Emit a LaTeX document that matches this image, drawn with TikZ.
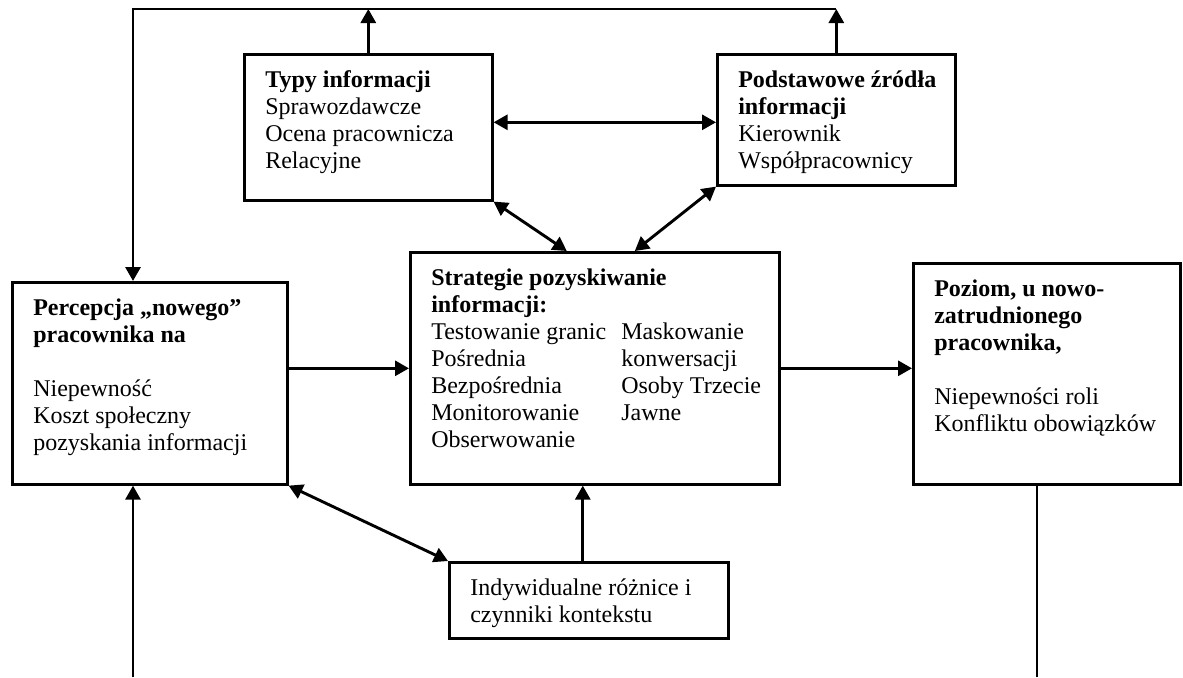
\documentclass[tikz,border=0pt]{standalone}
\usepackage{fontspec}
\setmainfont{Liberation Serif}
\usetikzlibrary{arrows.meta,positioning}

\newcommand{\boxtext}[3]{\parbox[t][#2][t]{#1}{\rule{0pt}{16.5pt}\hspace*{10.5pt}\begin{tabular}[t]{@{}l@{}}#3\end{tabular}}}
\newcommand{\colA}[1]{\makebox[95pt][l]{#1}}

\begin{document}
\begin{tikzpicture}[x=0.5pt,y=-0.5pt,>={Triangle[length=7pt,width=7.5pt]},
	box/.style={draw, line width=1.3pt, anchor=north west, inner sep=0pt, font=\fontsize{12}{13.5}\selectfont},
	link/.style={line width=1.45pt}]
	\useasboundingbox (0,0) rectangle (1183,677);

	\node[box] (typy) at (243,53) {\boxtext{124pt}{73pt}{\textbf{Typy informacji}\\ Sprawozdawcze\\ Ocena pracownicza\\ Relacyjne}};
	\node[box] (zrodla) at (716,53) {\boxtext{119pt}{65.5pt}{\textbf{Podstawowe źródła}\\ \textbf{informacji}\\ Kierownik\\ Współpracownicy}};
	\node[box] (strat) at (409,251) {\boxtext{184.5pt}{116pt}{\textbf{Strategie pozyskiwanie}\\ \textbf{informacji:}\\ \colA{Testowanie granic}Maskowanie\\ \colA{Pośrednia}konwersacji\\ \colA{Bezpośrednia}Osoby Trzecie\\ \colA{Monitorowanie}Jawne\\ Obserwowanie}};
	\node[box] (perc) at (11,281) {\boxtext{137.5pt}{101pt}{\textbf{Percepcja „nowego”}\\ \textbf{pracownika na}\\ \\ Niepewność\\ Koszt społeczny\\ pozyskania informacji}};
	\node[box] (poziom) at (912,262) {\boxtext{133.5pt}{110.5pt}{\textbf{Poziom, u nowo-}\\ \textbf{zatrudnionego}\\ \textbf{pracownika,}\\ \\ Niepewności roli\\ Konfliktu obowiązków}};
	\node[box] (indyw) at (448,561) {\boxtext{139.5pt}{38pt}{Indywidualne różnice i\\ czynniki kontekstu}};

	\coordinate (tl) at (133,9);
	\coordinate (bl) at (133,677);
	\coordinate (br) at (1037,677);

	% feedback loop along the top
	\draw[link,->] (typy.north) -- (typy.north |- tl);
	\draw[link,->] (zrodla.north) -- (zrodla.north |- tl);
	\draw[link,->] (zrodla.north |- tl) -- (tl) -- (tl |- perc.north);

	\path[link,<->]
		([yshift=2.5pt]typy.east) edge ([yshift=2.5pt]typy.east -| zrodla.west)
		(typy.south east) edge ([xshift=-14pt]strat.north)
		(zrodla.south west) edge ([xshift=20pt]strat.north)
		(perc.south east) edge (indyw.north west)
	;
	\path[link,->]
		(strat.west -| perc.east) edge (strat.west)
		(strat.east) edge (strat.east -| poziom.west)
		([xshift=-3pt]indyw.north) edge ([xshift=-3pt]indyw.north |- strat.south)
		(bl) edge (bl |- perc.south)
	;
	\draw[line width=0.7pt] (br |- poziom.south) -- (br);
\end{tikzpicture}
\end{document}
